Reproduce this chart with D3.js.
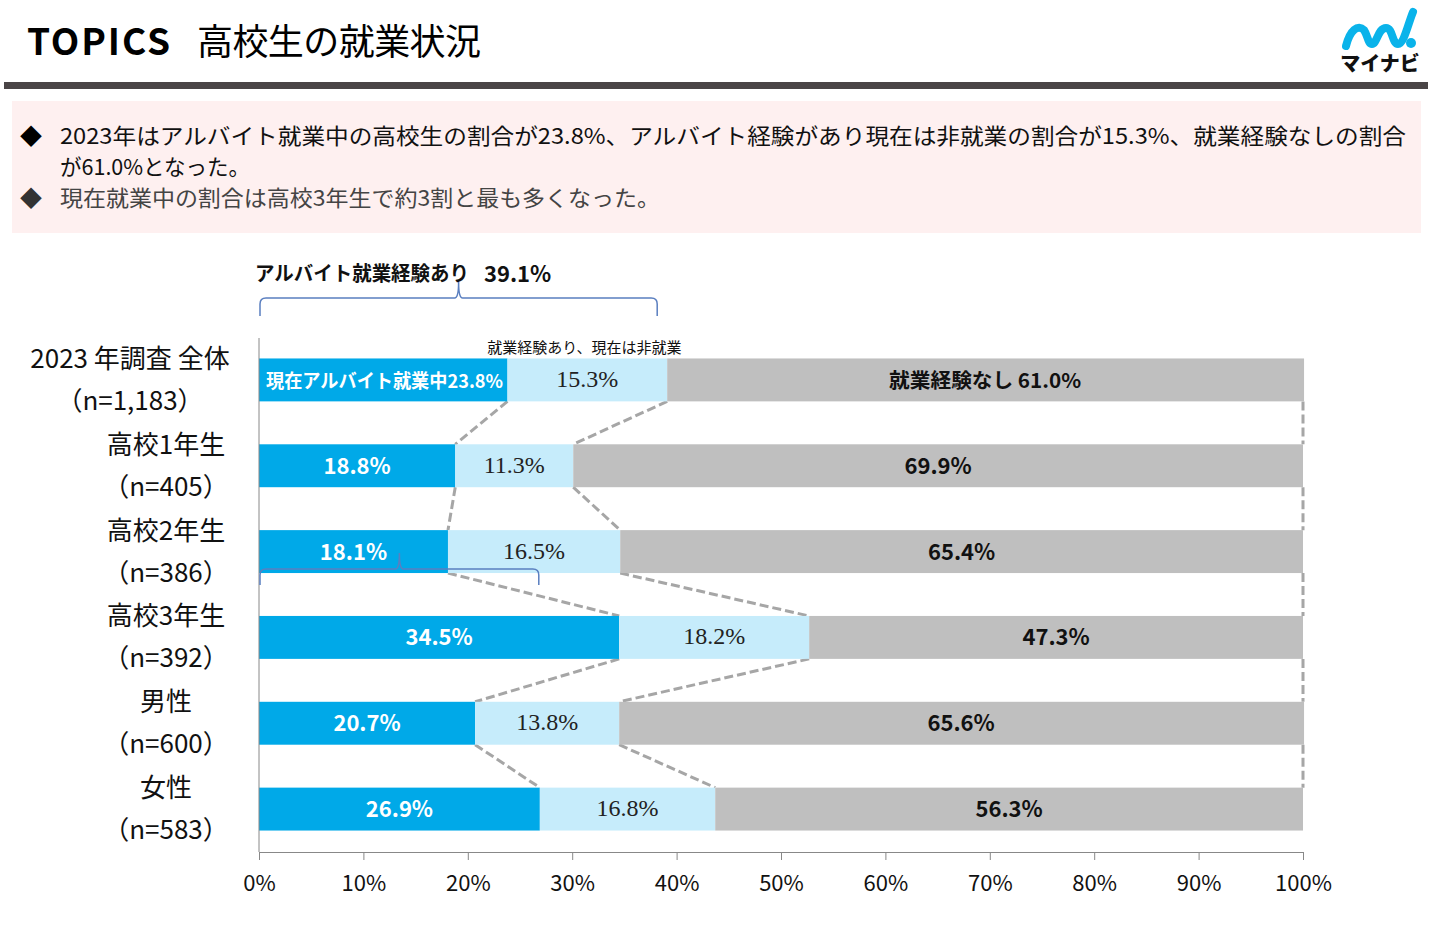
<!DOCTYPE html>
<html><head><meta charset="utf-8">
<script src="https://cdn.jsdelivr.net/npm/d3@7"></script>
<style>
body{margin:0;background:#fff;}
svg{display:block;}
text{font-family:"Noto Sans CJK JP","Noto Sans",sans-serif;}
</style></head>
<body>
<svg id="c" width="1431" height="948"></svg>
<script>
const categories = ["2023 年調査 全体","高校1年生","高校2年生","高校3年生","男性","女性"];
const nLabels = ["（n=1,183）","（n=405）","（n=386）","（n=392）","（n=600）","（n=583）"];
const working = [23.8,18.8,18.1,34.5,20.7,26.9];
const past = [15.3,11.3,16.5,18.2,13.8,16.8];
const never = [61.0,69.9,65.4,47.3,65.6,56.3];
const ticks = [0,10,20,30,40,50,60,70,80,90,100];
const bullets = [
  ["2023年はアルバイト就業中の高校生の割合が23.8%、アルバイト経験があり現在は非就業の割合が15.3%、就業経験なしの割合","が61.0%となった。"],
  ["現在就業中の割合は高校3年生で約3割と最も多くなった。"]
];
const experienceTotal = 39.1;

const svg = d3.select("#c");
const colW = "#00a9e8", colP = "#c6ecfb", colN = "#bfbfbf";

// header
svg.append("text").attr("x",27).attr("y",55).attr("font-size",37).attr("font-weight","bold")
  .attr("fill","#000").attr("textLength",143).text("TOPICS");
svg.append("text").attr("x",197).attr("y",55).attr("font-size",36).attr("fill","#000").attr("textLength",284).text("高校生の就業状況");
svg.append("rect").attr("x",4).attr("y",82).attr("width",1424).attr("height",7).attr("fill","#4a4546");

// logo
const lg = svg.append("g");
lg.append("path").attr("d","M1346,46 C1350,30 1358,24 1364,30 C1368,36 1368,44 1372,44 C1377,44 1378,28 1386,28 C1393,28 1392,44 1398,44 C1404,44 1408,24 1413,12")
  .attr("fill","none").attr("stroke","#0ab3ea").attr("stroke-width",8).attr("stroke-linecap","round");
lg.append("circle").attr("cx",1411).attr("cy",43).attr("r",5).attr("fill","#0ab3ea");
lg.append("text").attr("x",1380).attr("y",71).attr("text-anchor","middle").attr("font-size",20).attr("font-weight","900").attr("fill","#111").text("マイナビ");

// pink box
svg.append("rect").attr("x",12).attr("y",101).attr("width",1409).attr("height",132).attr("fill","#fef0f0");
const bl = [[136,167],[198]];
const bLen = [[1346,190],[600]];
bullets.forEach((b,i)=>{
  svg.append("text").attr("x",20).attr("y",bl[i][0]+8).attr("font-size",22).attr("fill", i==0?"#000":"#333").text("◆");
  b.forEach((line,j)=>{
    svg.append("text").attr("x",60).attr("y",bl[i][j]+8).attr("font-size",22)
      .attr("fill", i==0?"#111":"#444").attr("textLength", bLen[i][j]).attr("lengthAdjust","spacingAndGlyphs").text(line);
  });
});

// scales
const x = d3.scaleLinear().domain([0,100]).range([259,1303]);
const y = d3.scaleBand().domain(categories).range([337,852]).paddingInner(0.5).paddingOuter(0.25);
const bw = y.bandwidth();

// dashed connectors
const dash = svg.append("g").attr("stroke","#a6a6a6").attr("stroke-width",3).attr("stroke-dasharray","9,4").attr("fill","none");
for(let i=0;i<categories.length-1;i++){
  const y0 = y(categories[i])+bw, y1 = y(categories[i+1]);
  const b1a = working[i], b1b = working[i+1];
  const b2a = working[i]+past[i], b2b = working[i+1]+past[i+1];
  dash.append("line").attr("x1",x(b1a)).attr("y1",y0).attr("x2",x(b1b)).attr("y2",y1);
  dash.append("line").attr("x1",x(b2a)).attr("y1",y0).attr("x2",x(b2b)).attr("y2",y1);
  dash.append("line").attr("x1",x(100)).attr("y1",y0).attr("x2",x(100)).attr("y2",y1);
}

// bars
const rows = svg.append("g");
categories.forEach((c,i)=>{
  const yy = y(c);
  const segs = [[0,working[i],colW],[working[i],working[i]+past[i],colP],[working[i]+past[i],working[i]+past[i]+never[i],colN]];
  segs.forEach(s=>{
    rows.append("rect").attr("x",x(s[0])).attr("y",yy).attr("width",x(s[1])-x(s[0])).attr("height",bw).attr("fill",s[2]);
  });
  const cy = yy+bw/2+8;
  if(i===0){
    rows.append("text").attr("x",x(0)+7).attr("y",cy).attr("font-size",19).attr("font-weight","bold").attr("fill","#fff")
      .attr("textLength",237).attr("lengthAdjust","spacingAndGlyphs")
      .text("現在アルバイト就業中"+working[i].toFixed(1)+"%");
    rows.append("text").attr("x",(x(working[i]+past[i])+x(100))/2).attr("y",cy).attr("text-anchor","middle").attr("font-size",20).attr("font-weight","bold").attr("fill","#111")
      .attr("textLength",192).attr("lengthAdjust","spacingAndGlyphs")
      .text("就業経験なし "+never[i].toFixed(1)+"%");
  } else {
    rows.append("text").attr("x",x(working[i]/2)).attr("y",cy).attr("text-anchor","middle").attr("font-size",22).attr("font-weight","bold").attr("fill","#fff")
      .text(working[i].toFixed(1)+"%");
    rows.append("text").attr("x",(x(working[i]+past[i])+x(100))/2).attr("y",cy).attr("text-anchor","middle").attr("font-size",22).attr("font-weight","bold").attr("fill","#111")
      .text(never[i].toFixed(1)+"%");
  }
  rows.append("text").attr("x",x(working[i]+past[i]/2)).attr("y",cy-1).attr("text-anchor","middle").attr("font-size",24).attr("fill","#222")
    .style("font-family","'Liberation Serif', 'DejaVu Serif', serif").text(past[i].toFixed(1)+"%");
  // category labels
  const lx = i===0?130:166;
  rows.append("text").attr("x",lx).attr("y",yy+bw/2-12).attr("text-anchor","middle").attr("font-size",26).attr("fill","#111").text(c);
  rows.append("text").attr("x",lx).attr("y",yy+bw/2+30).attr("text-anchor","middle").attr("font-size",26).attr("fill","#111").text(nLabels[i]);
});

// small header above light segment
svg.append("text").attr("x",x(working[0]+past[0]/2)-3).attr("y",353).attr("text-anchor","middle").attr("font-size",15).attr("fill","#111").text("就業経験あり、現在は非就業");

// axes
svg.append("line").attr("x1",259).attr("x2",259).attr("y1",338).attr("y2",852).attr("stroke","#888").attr("stroke-width",1);
const ax = svg.append("g").attr("transform","translate(0,852)")
  .call(d3.axisBottom(x).tickValues(ticks).tickSize(8).tickFormat(d=>d+"%"));
ax.select(".domain").attr("stroke","#888");
ax.selectAll(".tick line").attr("stroke","#888");
ax.selectAll(".tick text").attr("font-size",22).attr("fill","#111").attr("dy","1.25em");

// braces
function brace(x0,x1,yTop,yEnd,yTip){
  const xm=(x0+x1)/2, r=6;
  return `M${x0},${yEnd} L${x0},${yTop+r} Q${x0},${yTop} ${x0+r},${yTop} L${xm-4},${yTop} Q${xm},${yTop} ${xm},${yTip} Q${xm},${yTop} ${xm+4},${yTop} L${x1-r},${yTop} Q${x1},${yTop} ${x1},${yTop+r} L${x1},${yEnd}`;
}
svg.append("path").attr("d",brace(x(0)+1,x(experienceTotal)-10,298,316,282)).attr("fill","none").attr("stroke","#5a7fc0").attr("stroke-width",1.5);
svg.append("text").attr("x",255).attr("y",281).attr("font-size",20).attr("font-weight","bold").attr("fill","#111").attr("textLength",214).attr("lengthAdjust","spacingAndGlyphs").text("アルバイト就業経験あり");
svg.append("text").attr("x",484).attr("y",282).attr("font-size",22).attr("font-weight","bold").attr("fill","#111")
  .text(experienceTotal.toFixed(1)+"%");
svg.append("path").attr("d",brace(x(0)+1,x(26.8),569,585,553)).attr("fill","none").attr("stroke","#5a7fc0").attr("stroke-width",1.5);
</script>
</body></html>
